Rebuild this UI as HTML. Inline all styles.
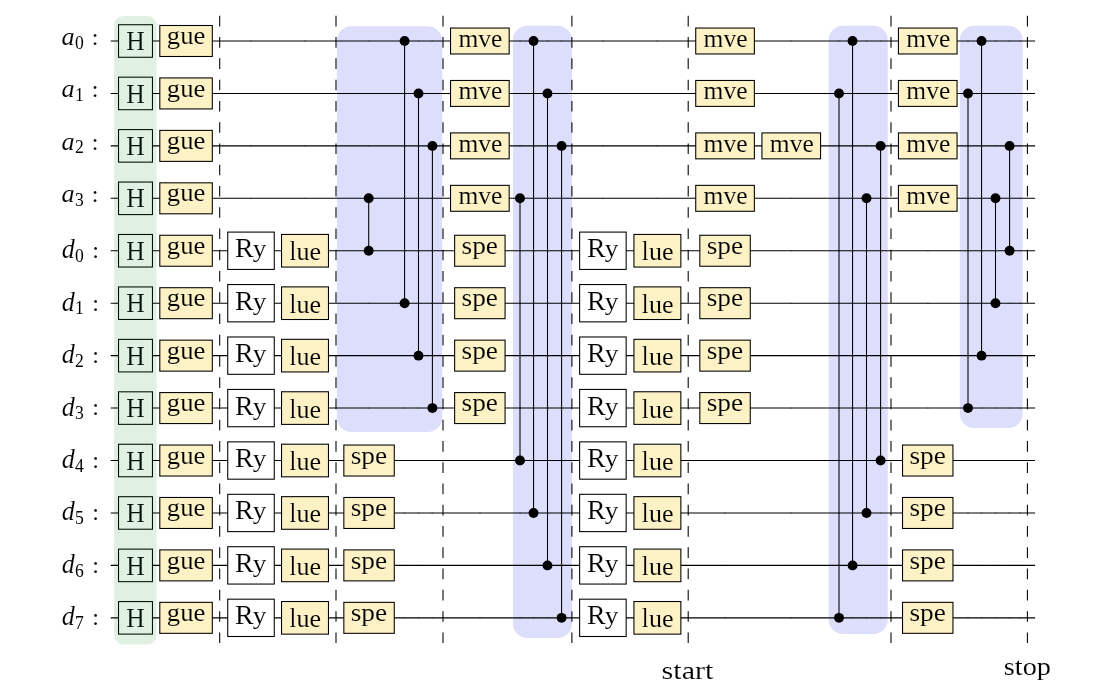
<!DOCTYPE html>
<html><head><meta charset="utf-8"><style>
html,body{margin:0;padding:0;background:#fff;width:1100px;height:696px;overflow:hidden}
svg{display:block;will-change:transform}
</style></head><body>
<svg width="1100" height="696" viewBox="0 0 1100 696">
<rect x="0" y="0" width="1100" height="696" fill="#ffffff"/>
<rect x="114.10" y="15.90" width="42.50" height="628.60" rx="9.5" ry="9.5" fill="#e0f0e3"/>
<rect x="336.90" y="26.20" width="105.30" height="405.70" rx="14.5" ry="14.5" fill="#dddefc"/>
<rect x="512.90" y="25.70" width="59.10" height="612.20" rx="14.5" ry="14.5" fill="#dddefc"/>
<rect x="828.60" y="25.70" width="59.20" height="608.40" rx="14.5" ry="14.5" fill="#dddefc"/>
<rect x="959.80" y="25.70" width="63.00" height="402.30" rx="14.5" ry="14.5" fill="#dddefc"/>
<line x1="110.7" y1="41.00" x2="1035.1" y2="41.00" stroke="#000" stroke-width="1.07"/>
<line x1="110.7" y1="93.44" x2="1035.1" y2="93.44" stroke="#000" stroke-width="1.07"/>
<line x1="110.7" y1="145.88" x2="1035.1" y2="145.88" stroke="#000" stroke-width="1.07"/>
<line x1="110.7" y1="198.32" x2="1035.1" y2="198.32" stroke="#000" stroke-width="1.07"/>
<line x1="110.7" y1="250.76" x2="1035.1" y2="250.76" stroke="#000" stroke-width="1.07"/>
<line x1="110.7" y1="303.20" x2="1035.1" y2="303.20" stroke="#000" stroke-width="1.07"/>
<line x1="110.7" y1="355.64" x2="1035.1" y2="355.64" stroke="#000" stroke-width="1.07"/>
<line x1="110.7" y1="408.08" x2="1035.1" y2="408.08" stroke="#000" stroke-width="1.07"/>
<line x1="110.7" y1="460.52" x2="1035.1" y2="460.52" stroke="#000" stroke-width="1.07"/>
<line x1="110.7" y1="512.96" x2="1035.1" y2="512.96" stroke="#000" stroke-width="1.07"/>
<line x1="110.7" y1="565.40" x2="1035.1" y2="565.40" stroke="#000" stroke-width="1.07"/>
<line x1="110.7" y1="617.84" x2="1035.1" y2="617.84" stroke="#000" stroke-width="1.07"/>
<rect x="249.90" y="40.47" width="2" height="1.07" fill="#000" fill-opacity="0.35"/>
<rect x="304.00" y="40.47" width="2" height="1.07" fill="#000" fill-opacity="0.35"/>
<rect x="367.70" y="40.47" width="2" height="1.07" fill="#000" fill-opacity="0.35"/>
<rect x="403.60" y="40.47" width="2" height="1.07" fill="#000" fill-opacity="0.35"/>
<rect x="417.50" y="40.47" width="2" height="1.07" fill="#000" fill-opacity="0.35"/>
<rect x="431.40" y="40.47" width="2" height="1.07" fill="#000" fill-opacity="0.35"/>
<rect x="478.85" y="40.47" width="2" height="1.07" fill="#000" fill-opacity="0.35"/>
<rect x="519.00" y="40.47" width="2" height="1.07" fill="#000" fill-opacity="0.35"/>
<rect x="532.55" y="40.47" width="2" height="1.07" fill="#000" fill-opacity="0.35"/>
<rect x="546.50" y="40.47" width="2" height="1.07" fill="#000" fill-opacity="0.35"/>
<rect x="560.60" y="40.47" width="2" height="1.07" fill="#000" fill-opacity="0.35"/>
<rect x="602.00" y="40.47" width="2" height="1.07" fill="#000" fill-opacity="0.35"/>
<rect x="656.30" y="40.47" width="2" height="1.07" fill="#000" fill-opacity="0.35"/>
<rect x="724.05" y="40.47" width="2" height="1.07" fill="#000" fill-opacity="0.35"/>
<rect x="790.25" y="40.47" width="2" height="1.07" fill="#000" fill-opacity="0.35"/>
<rect x="838.00" y="40.47" width="2" height="1.07" fill="#000" fill-opacity="0.35"/>
<rect x="851.55" y="40.47" width="2" height="1.07" fill="#000" fill-opacity="0.35"/>
<rect x="865.50" y="40.47" width="2" height="1.07" fill="#000" fill-opacity="0.35"/>
<rect x="879.60" y="40.47" width="2" height="1.07" fill="#000" fill-opacity="0.35"/>
<rect x="926.75" y="40.47" width="2" height="1.07" fill="#000" fill-opacity="0.35"/>
<rect x="967.00" y="40.47" width="2" height="1.07" fill="#000" fill-opacity="0.35"/>
<rect x="980.55" y="40.47" width="2" height="1.07" fill="#000" fill-opacity="0.35"/>
<rect x="994.50" y="40.47" width="2" height="1.07" fill="#000" fill-opacity="0.35"/>
<rect x="1008.60" y="40.47" width="2" height="1.07" fill="#000" fill-opacity="0.35"/>
<rect x="1019.00" y="40.47" width="2" height="1.07" fill="#000" fill-opacity="0.35"/>
<rect x="249.90" y="92.91" width="2" height="1.07" fill="#000" fill-opacity="0.35"/>
<rect x="304.00" y="92.91" width="2" height="1.07" fill="#000" fill-opacity="0.35"/>
<rect x="367.70" y="92.91" width="2" height="1.07" fill="#000" fill-opacity="0.35"/>
<rect x="403.60" y="92.91" width="2" height="1.07" fill="#000" fill-opacity="0.35"/>
<rect x="417.50" y="92.91" width="2" height="1.07" fill="#000" fill-opacity="0.35"/>
<rect x="431.40" y="92.91" width="2" height="1.07" fill="#000" fill-opacity="0.35"/>
<rect x="478.85" y="92.91" width="2" height="1.07" fill="#000" fill-opacity="0.35"/>
<rect x="519.00" y="92.91" width="2" height="1.07" fill="#000" fill-opacity="0.35"/>
<rect x="532.55" y="92.91" width="2" height="1.07" fill="#000" fill-opacity="0.35"/>
<rect x="546.50" y="92.91" width="2" height="1.07" fill="#000" fill-opacity="0.35"/>
<rect x="560.60" y="92.91" width="2" height="1.07" fill="#000" fill-opacity="0.35"/>
<rect x="602.00" y="92.91" width="2" height="1.07" fill="#000" fill-opacity="0.35"/>
<rect x="656.30" y="92.91" width="2" height="1.07" fill="#000" fill-opacity="0.35"/>
<rect x="724.05" y="92.91" width="2" height="1.07" fill="#000" fill-opacity="0.35"/>
<rect x="790.25" y="92.91" width="2" height="1.07" fill="#000" fill-opacity="0.35"/>
<rect x="838.00" y="92.91" width="2" height="1.07" fill="#000" fill-opacity="0.35"/>
<rect x="851.55" y="92.91" width="2" height="1.07" fill="#000" fill-opacity="0.35"/>
<rect x="865.50" y="92.91" width="2" height="1.07" fill="#000" fill-opacity="0.35"/>
<rect x="879.60" y="92.91" width="2" height="1.07" fill="#000" fill-opacity="0.35"/>
<rect x="926.75" y="92.91" width="2" height="1.07" fill="#000" fill-opacity="0.35"/>
<rect x="967.00" y="92.91" width="2" height="1.07" fill="#000" fill-opacity="0.35"/>
<rect x="980.55" y="92.91" width="2" height="1.07" fill="#000" fill-opacity="0.35"/>
<rect x="994.50" y="92.91" width="2" height="1.07" fill="#000" fill-opacity="0.35"/>
<rect x="1008.60" y="92.91" width="2" height="1.07" fill="#000" fill-opacity="0.35"/>
<rect x="1019.00" y="92.91" width="2" height="1.07" fill="#000" fill-opacity="0.35"/>
<rect x="249.90" y="145.34" width="2" height="1.07" fill="#000" fill-opacity="0.35"/>
<rect x="304.00" y="145.34" width="2" height="1.07" fill="#000" fill-opacity="0.35"/>
<rect x="367.70" y="145.34" width="2" height="1.07" fill="#000" fill-opacity="0.35"/>
<rect x="403.60" y="145.34" width="2" height="1.07" fill="#000" fill-opacity="0.35"/>
<rect x="417.50" y="145.34" width="2" height="1.07" fill="#000" fill-opacity="0.35"/>
<rect x="431.40" y="145.34" width="2" height="1.07" fill="#000" fill-opacity="0.35"/>
<rect x="478.85" y="145.34" width="2" height="1.07" fill="#000" fill-opacity="0.35"/>
<rect x="519.00" y="145.34" width="2" height="1.07" fill="#000" fill-opacity="0.35"/>
<rect x="532.55" y="145.34" width="2" height="1.07" fill="#000" fill-opacity="0.35"/>
<rect x="546.50" y="145.34" width="2" height="1.07" fill="#000" fill-opacity="0.35"/>
<rect x="560.60" y="145.34" width="2" height="1.07" fill="#000" fill-opacity="0.35"/>
<rect x="602.00" y="145.34" width="2" height="1.07" fill="#000" fill-opacity="0.35"/>
<rect x="656.30" y="145.34" width="2" height="1.07" fill="#000" fill-opacity="0.35"/>
<rect x="724.05" y="145.34" width="2" height="1.07" fill="#000" fill-opacity="0.35"/>
<rect x="790.25" y="145.34" width="2" height="1.07" fill="#000" fill-opacity="0.35"/>
<rect x="838.00" y="145.34" width="2" height="1.07" fill="#000" fill-opacity="0.35"/>
<rect x="851.55" y="145.34" width="2" height="1.07" fill="#000" fill-opacity="0.35"/>
<rect x="865.50" y="145.34" width="2" height="1.07" fill="#000" fill-opacity="0.35"/>
<rect x="879.60" y="145.34" width="2" height="1.07" fill="#000" fill-opacity="0.35"/>
<rect x="926.75" y="145.34" width="2" height="1.07" fill="#000" fill-opacity="0.35"/>
<rect x="967.00" y="145.34" width="2" height="1.07" fill="#000" fill-opacity="0.35"/>
<rect x="980.55" y="145.34" width="2" height="1.07" fill="#000" fill-opacity="0.35"/>
<rect x="994.50" y="145.34" width="2" height="1.07" fill="#000" fill-opacity="0.35"/>
<rect x="1008.60" y="145.34" width="2" height="1.07" fill="#000" fill-opacity="0.35"/>
<rect x="1019.00" y="145.34" width="2" height="1.07" fill="#000" fill-opacity="0.35"/>
<rect x="249.90" y="197.78" width="2" height="1.07" fill="#000" fill-opacity="0.35"/>
<rect x="304.00" y="197.78" width="2" height="1.07" fill="#000" fill-opacity="0.35"/>
<rect x="367.70" y="197.78" width="2" height="1.07" fill="#000" fill-opacity="0.35"/>
<rect x="403.60" y="197.78" width="2" height="1.07" fill="#000" fill-opacity="0.35"/>
<rect x="417.50" y="197.78" width="2" height="1.07" fill="#000" fill-opacity="0.35"/>
<rect x="431.40" y="197.78" width="2" height="1.07" fill="#000" fill-opacity="0.35"/>
<rect x="478.85" y="197.78" width="2" height="1.07" fill="#000" fill-opacity="0.35"/>
<rect x="519.00" y="197.78" width="2" height="1.07" fill="#000" fill-opacity="0.35"/>
<rect x="532.55" y="197.78" width="2" height="1.07" fill="#000" fill-opacity="0.35"/>
<rect x="546.50" y="197.78" width="2" height="1.07" fill="#000" fill-opacity="0.35"/>
<rect x="560.60" y="197.78" width="2" height="1.07" fill="#000" fill-opacity="0.35"/>
<rect x="602.00" y="197.78" width="2" height="1.07" fill="#000" fill-opacity="0.35"/>
<rect x="656.30" y="197.78" width="2" height="1.07" fill="#000" fill-opacity="0.35"/>
<rect x="724.05" y="197.78" width="2" height="1.07" fill="#000" fill-opacity="0.35"/>
<rect x="790.25" y="197.78" width="2" height="1.07" fill="#000" fill-opacity="0.35"/>
<rect x="838.00" y="197.78" width="2" height="1.07" fill="#000" fill-opacity="0.35"/>
<rect x="851.55" y="197.78" width="2" height="1.07" fill="#000" fill-opacity="0.35"/>
<rect x="865.50" y="197.78" width="2" height="1.07" fill="#000" fill-opacity="0.35"/>
<rect x="879.60" y="197.78" width="2" height="1.07" fill="#000" fill-opacity="0.35"/>
<rect x="926.75" y="197.78" width="2" height="1.07" fill="#000" fill-opacity="0.35"/>
<rect x="967.00" y="197.78" width="2" height="1.07" fill="#000" fill-opacity="0.35"/>
<rect x="980.55" y="197.78" width="2" height="1.07" fill="#000" fill-opacity="0.35"/>
<rect x="994.50" y="197.78" width="2" height="1.07" fill="#000" fill-opacity="0.35"/>
<rect x="1008.60" y="197.78" width="2" height="1.07" fill="#000" fill-opacity="0.35"/>
<rect x="1019.00" y="197.78" width="2" height="1.07" fill="#000" fill-opacity="0.35"/>
<rect x="249.90" y="250.22" width="2" height="1.07" fill="#000" fill-opacity="0.35"/>
<rect x="304.00" y="250.22" width="2" height="1.07" fill="#000" fill-opacity="0.35"/>
<rect x="367.70" y="250.22" width="2" height="1.07" fill="#000" fill-opacity="0.35"/>
<rect x="403.60" y="250.22" width="2" height="1.07" fill="#000" fill-opacity="0.35"/>
<rect x="417.50" y="250.22" width="2" height="1.07" fill="#000" fill-opacity="0.35"/>
<rect x="431.40" y="250.22" width="2" height="1.07" fill="#000" fill-opacity="0.35"/>
<rect x="478.85" y="250.22" width="2" height="1.07" fill="#000" fill-opacity="0.35"/>
<rect x="519.00" y="250.22" width="2" height="1.07" fill="#000" fill-opacity="0.35"/>
<rect x="532.55" y="250.22" width="2" height="1.07" fill="#000" fill-opacity="0.35"/>
<rect x="546.50" y="250.22" width="2" height="1.07" fill="#000" fill-opacity="0.35"/>
<rect x="560.60" y="250.22" width="2" height="1.07" fill="#000" fill-opacity="0.35"/>
<rect x="602.00" y="250.22" width="2" height="1.07" fill="#000" fill-opacity="0.35"/>
<rect x="656.30" y="250.22" width="2" height="1.07" fill="#000" fill-opacity="0.35"/>
<rect x="724.05" y="250.22" width="2" height="1.07" fill="#000" fill-opacity="0.35"/>
<rect x="790.25" y="250.22" width="2" height="1.07" fill="#000" fill-opacity="0.35"/>
<rect x="838.00" y="250.22" width="2" height="1.07" fill="#000" fill-opacity="0.35"/>
<rect x="851.55" y="250.22" width="2" height="1.07" fill="#000" fill-opacity="0.35"/>
<rect x="865.50" y="250.22" width="2" height="1.07" fill="#000" fill-opacity="0.35"/>
<rect x="879.60" y="250.22" width="2" height="1.07" fill="#000" fill-opacity="0.35"/>
<rect x="926.75" y="250.22" width="2" height="1.07" fill="#000" fill-opacity="0.35"/>
<rect x="967.00" y="250.22" width="2" height="1.07" fill="#000" fill-opacity="0.35"/>
<rect x="980.55" y="250.22" width="2" height="1.07" fill="#000" fill-opacity="0.35"/>
<rect x="994.50" y="250.22" width="2" height="1.07" fill="#000" fill-opacity="0.35"/>
<rect x="1008.60" y="250.22" width="2" height="1.07" fill="#000" fill-opacity="0.35"/>
<rect x="1019.00" y="250.22" width="2" height="1.07" fill="#000" fill-opacity="0.35"/>
<rect x="249.90" y="302.66" width="2" height="1.07" fill="#000" fill-opacity="0.35"/>
<rect x="304.00" y="302.66" width="2" height="1.07" fill="#000" fill-opacity="0.35"/>
<rect x="367.70" y="302.66" width="2" height="1.07" fill="#000" fill-opacity="0.35"/>
<rect x="403.60" y="302.66" width="2" height="1.07" fill="#000" fill-opacity="0.35"/>
<rect x="417.50" y="302.66" width="2" height="1.07" fill="#000" fill-opacity="0.35"/>
<rect x="431.40" y="302.66" width="2" height="1.07" fill="#000" fill-opacity="0.35"/>
<rect x="478.85" y="302.66" width="2" height="1.07" fill="#000" fill-opacity="0.35"/>
<rect x="519.00" y="302.66" width="2" height="1.07" fill="#000" fill-opacity="0.35"/>
<rect x="532.55" y="302.66" width="2" height="1.07" fill="#000" fill-opacity="0.35"/>
<rect x="546.50" y="302.66" width="2" height="1.07" fill="#000" fill-opacity="0.35"/>
<rect x="560.60" y="302.66" width="2" height="1.07" fill="#000" fill-opacity="0.35"/>
<rect x="602.00" y="302.66" width="2" height="1.07" fill="#000" fill-opacity="0.35"/>
<rect x="656.30" y="302.66" width="2" height="1.07" fill="#000" fill-opacity="0.35"/>
<rect x="724.05" y="302.66" width="2" height="1.07" fill="#000" fill-opacity="0.35"/>
<rect x="790.25" y="302.66" width="2" height="1.07" fill="#000" fill-opacity="0.35"/>
<rect x="838.00" y="302.66" width="2" height="1.07" fill="#000" fill-opacity="0.35"/>
<rect x="851.55" y="302.66" width="2" height="1.07" fill="#000" fill-opacity="0.35"/>
<rect x="865.50" y="302.66" width="2" height="1.07" fill="#000" fill-opacity="0.35"/>
<rect x="879.60" y="302.66" width="2" height="1.07" fill="#000" fill-opacity="0.35"/>
<rect x="926.75" y="302.66" width="2" height="1.07" fill="#000" fill-opacity="0.35"/>
<rect x="967.00" y="302.66" width="2" height="1.07" fill="#000" fill-opacity="0.35"/>
<rect x="980.55" y="302.66" width="2" height="1.07" fill="#000" fill-opacity="0.35"/>
<rect x="994.50" y="302.66" width="2" height="1.07" fill="#000" fill-opacity="0.35"/>
<rect x="1008.60" y="302.66" width="2" height="1.07" fill="#000" fill-opacity="0.35"/>
<rect x="1019.00" y="302.66" width="2" height="1.07" fill="#000" fill-opacity="0.35"/>
<rect x="249.90" y="355.10" width="2" height="1.07" fill="#000" fill-opacity="0.35"/>
<rect x="304.00" y="355.10" width="2" height="1.07" fill="#000" fill-opacity="0.35"/>
<rect x="367.70" y="355.10" width="2" height="1.07" fill="#000" fill-opacity="0.35"/>
<rect x="403.60" y="355.10" width="2" height="1.07" fill="#000" fill-opacity="0.35"/>
<rect x="417.50" y="355.10" width="2" height="1.07" fill="#000" fill-opacity="0.35"/>
<rect x="431.40" y="355.10" width="2" height="1.07" fill="#000" fill-opacity="0.35"/>
<rect x="478.85" y="355.10" width="2" height="1.07" fill="#000" fill-opacity="0.35"/>
<rect x="519.00" y="355.10" width="2" height="1.07" fill="#000" fill-opacity="0.35"/>
<rect x="532.55" y="355.10" width="2" height="1.07" fill="#000" fill-opacity="0.35"/>
<rect x="546.50" y="355.10" width="2" height="1.07" fill="#000" fill-opacity="0.35"/>
<rect x="560.60" y="355.10" width="2" height="1.07" fill="#000" fill-opacity="0.35"/>
<rect x="602.00" y="355.10" width="2" height="1.07" fill="#000" fill-opacity="0.35"/>
<rect x="656.30" y="355.10" width="2" height="1.07" fill="#000" fill-opacity="0.35"/>
<rect x="724.05" y="355.10" width="2" height="1.07" fill="#000" fill-opacity="0.35"/>
<rect x="790.25" y="355.10" width="2" height="1.07" fill="#000" fill-opacity="0.35"/>
<rect x="838.00" y="355.10" width="2" height="1.07" fill="#000" fill-opacity="0.35"/>
<rect x="851.55" y="355.10" width="2" height="1.07" fill="#000" fill-opacity="0.35"/>
<rect x="865.50" y="355.10" width="2" height="1.07" fill="#000" fill-opacity="0.35"/>
<rect x="879.60" y="355.10" width="2" height="1.07" fill="#000" fill-opacity="0.35"/>
<rect x="926.75" y="355.10" width="2" height="1.07" fill="#000" fill-opacity="0.35"/>
<rect x="967.00" y="355.10" width="2" height="1.07" fill="#000" fill-opacity="0.35"/>
<rect x="980.55" y="355.10" width="2" height="1.07" fill="#000" fill-opacity="0.35"/>
<rect x="994.50" y="355.10" width="2" height="1.07" fill="#000" fill-opacity="0.35"/>
<rect x="1008.60" y="355.10" width="2" height="1.07" fill="#000" fill-opacity="0.35"/>
<rect x="1019.00" y="355.10" width="2" height="1.07" fill="#000" fill-opacity="0.35"/>
<rect x="249.90" y="407.54" width="2" height="1.07" fill="#000" fill-opacity="0.35"/>
<rect x="304.00" y="407.54" width="2" height="1.07" fill="#000" fill-opacity="0.35"/>
<rect x="367.70" y="407.54" width="2" height="1.07" fill="#000" fill-opacity="0.35"/>
<rect x="403.60" y="407.54" width="2" height="1.07" fill="#000" fill-opacity="0.35"/>
<rect x="417.50" y="407.54" width="2" height="1.07" fill="#000" fill-opacity="0.35"/>
<rect x="431.40" y="407.54" width="2" height="1.07" fill="#000" fill-opacity="0.35"/>
<rect x="478.85" y="407.54" width="2" height="1.07" fill="#000" fill-opacity="0.35"/>
<rect x="519.00" y="407.54" width="2" height="1.07" fill="#000" fill-opacity="0.35"/>
<rect x="532.55" y="407.54" width="2" height="1.07" fill="#000" fill-opacity="0.35"/>
<rect x="546.50" y="407.54" width="2" height="1.07" fill="#000" fill-opacity="0.35"/>
<rect x="560.60" y="407.54" width="2" height="1.07" fill="#000" fill-opacity="0.35"/>
<rect x="602.00" y="407.54" width="2" height="1.07" fill="#000" fill-opacity="0.35"/>
<rect x="656.30" y="407.54" width="2" height="1.07" fill="#000" fill-opacity="0.35"/>
<rect x="724.05" y="407.54" width="2" height="1.07" fill="#000" fill-opacity="0.35"/>
<rect x="790.25" y="407.54" width="2" height="1.07" fill="#000" fill-opacity="0.35"/>
<rect x="838.00" y="407.54" width="2" height="1.07" fill="#000" fill-opacity="0.35"/>
<rect x="851.55" y="407.54" width="2" height="1.07" fill="#000" fill-opacity="0.35"/>
<rect x="865.50" y="407.54" width="2" height="1.07" fill="#000" fill-opacity="0.35"/>
<rect x="879.60" y="407.54" width="2" height="1.07" fill="#000" fill-opacity="0.35"/>
<rect x="926.75" y="407.54" width="2" height="1.07" fill="#000" fill-opacity="0.35"/>
<rect x="967.00" y="407.54" width="2" height="1.07" fill="#000" fill-opacity="0.35"/>
<rect x="980.55" y="407.54" width="2" height="1.07" fill="#000" fill-opacity="0.35"/>
<rect x="994.50" y="407.54" width="2" height="1.07" fill="#000" fill-opacity="0.35"/>
<rect x="1008.60" y="407.54" width="2" height="1.07" fill="#000" fill-opacity="0.35"/>
<rect x="1019.00" y="407.54" width="2" height="1.07" fill="#000" fill-opacity="0.35"/>
<rect x="249.90" y="459.98" width="2" height="1.07" fill="#000" fill-opacity="0.35"/>
<rect x="304.00" y="459.98" width="2" height="1.07" fill="#000" fill-opacity="0.35"/>
<rect x="367.70" y="459.98" width="2" height="1.07" fill="#000" fill-opacity="0.35"/>
<rect x="403.60" y="459.98" width="2" height="1.07" fill="#000" fill-opacity="0.35"/>
<rect x="417.50" y="459.98" width="2" height="1.07" fill="#000" fill-opacity="0.35"/>
<rect x="431.40" y="459.98" width="2" height="1.07" fill="#000" fill-opacity="0.35"/>
<rect x="478.85" y="459.98" width="2" height="1.07" fill="#000" fill-opacity="0.35"/>
<rect x="519.00" y="459.98" width="2" height="1.07" fill="#000" fill-opacity="0.35"/>
<rect x="532.55" y="459.98" width="2" height="1.07" fill="#000" fill-opacity="0.35"/>
<rect x="546.50" y="459.98" width="2" height="1.07" fill="#000" fill-opacity="0.35"/>
<rect x="560.60" y="459.98" width="2" height="1.07" fill="#000" fill-opacity="0.35"/>
<rect x="602.00" y="459.98" width="2" height="1.07" fill="#000" fill-opacity="0.35"/>
<rect x="656.30" y="459.98" width="2" height="1.07" fill="#000" fill-opacity="0.35"/>
<rect x="724.05" y="459.98" width="2" height="1.07" fill="#000" fill-opacity="0.35"/>
<rect x="790.25" y="459.98" width="2" height="1.07" fill="#000" fill-opacity="0.35"/>
<rect x="838.00" y="459.98" width="2" height="1.07" fill="#000" fill-opacity="0.35"/>
<rect x="851.55" y="459.98" width="2" height="1.07" fill="#000" fill-opacity="0.35"/>
<rect x="865.50" y="459.98" width="2" height="1.07" fill="#000" fill-opacity="0.35"/>
<rect x="879.60" y="459.98" width="2" height="1.07" fill="#000" fill-opacity="0.35"/>
<rect x="926.75" y="459.98" width="2" height="1.07" fill="#000" fill-opacity="0.35"/>
<rect x="967.00" y="459.98" width="2" height="1.07" fill="#000" fill-opacity="0.35"/>
<rect x="980.55" y="459.98" width="2" height="1.07" fill="#000" fill-opacity="0.35"/>
<rect x="994.50" y="459.98" width="2" height="1.07" fill="#000" fill-opacity="0.35"/>
<rect x="1008.60" y="459.98" width="2" height="1.07" fill="#000" fill-opacity="0.35"/>
<rect x="1019.00" y="459.98" width="2" height="1.07" fill="#000" fill-opacity="0.35"/>
<rect x="249.90" y="512.43" width="2" height="1.07" fill="#000" fill-opacity="0.35"/>
<rect x="304.00" y="512.43" width="2" height="1.07" fill="#000" fill-opacity="0.35"/>
<rect x="367.70" y="512.43" width="2" height="1.07" fill="#000" fill-opacity="0.35"/>
<rect x="403.60" y="512.43" width="2" height="1.07" fill="#000" fill-opacity="0.35"/>
<rect x="417.50" y="512.43" width="2" height="1.07" fill="#000" fill-opacity="0.35"/>
<rect x="431.40" y="512.43" width="2" height="1.07" fill="#000" fill-opacity="0.35"/>
<rect x="478.85" y="512.43" width="2" height="1.07" fill="#000" fill-opacity="0.35"/>
<rect x="519.00" y="512.43" width="2" height="1.07" fill="#000" fill-opacity="0.35"/>
<rect x="532.55" y="512.43" width="2" height="1.07" fill="#000" fill-opacity="0.35"/>
<rect x="546.50" y="512.43" width="2" height="1.07" fill="#000" fill-opacity="0.35"/>
<rect x="560.60" y="512.43" width="2" height="1.07" fill="#000" fill-opacity="0.35"/>
<rect x="602.00" y="512.43" width="2" height="1.07" fill="#000" fill-opacity="0.35"/>
<rect x="656.30" y="512.43" width="2" height="1.07" fill="#000" fill-opacity="0.35"/>
<rect x="724.05" y="512.43" width="2" height="1.07" fill="#000" fill-opacity="0.35"/>
<rect x="790.25" y="512.43" width="2" height="1.07" fill="#000" fill-opacity="0.35"/>
<rect x="838.00" y="512.43" width="2" height="1.07" fill="#000" fill-opacity="0.35"/>
<rect x="851.55" y="512.43" width="2" height="1.07" fill="#000" fill-opacity="0.35"/>
<rect x="865.50" y="512.43" width="2" height="1.07" fill="#000" fill-opacity="0.35"/>
<rect x="879.60" y="512.43" width="2" height="1.07" fill="#000" fill-opacity="0.35"/>
<rect x="926.75" y="512.43" width="2" height="1.07" fill="#000" fill-opacity="0.35"/>
<rect x="967.00" y="512.43" width="2" height="1.07" fill="#000" fill-opacity="0.35"/>
<rect x="980.55" y="512.43" width="2" height="1.07" fill="#000" fill-opacity="0.35"/>
<rect x="994.50" y="512.43" width="2" height="1.07" fill="#000" fill-opacity="0.35"/>
<rect x="1008.60" y="512.43" width="2" height="1.07" fill="#000" fill-opacity="0.35"/>
<rect x="1019.00" y="512.43" width="2" height="1.07" fill="#000" fill-opacity="0.35"/>
<rect x="249.90" y="564.87" width="2" height="1.07" fill="#000" fill-opacity="0.35"/>
<rect x="304.00" y="564.87" width="2" height="1.07" fill="#000" fill-opacity="0.35"/>
<rect x="367.70" y="564.87" width="2" height="1.07" fill="#000" fill-opacity="0.35"/>
<rect x="403.60" y="564.87" width="2" height="1.07" fill="#000" fill-opacity="0.35"/>
<rect x="417.50" y="564.87" width="2" height="1.07" fill="#000" fill-opacity="0.35"/>
<rect x="431.40" y="564.87" width="2" height="1.07" fill="#000" fill-opacity="0.35"/>
<rect x="478.85" y="564.87" width="2" height="1.07" fill="#000" fill-opacity="0.35"/>
<rect x="519.00" y="564.87" width="2" height="1.07" fill="#000" fill-opacity="0.35"/>
<rect x="532.55" y="564.87" width="2" height="1.07" fill="#000" fill-opacity="0.35"/>
<rect x="546.50" y="564.87" width="2" height="1.07" fill="#000" fill-opacity="0.35"/>
<rect x="560.60" y="564.87" width="2" height="1.07" fill="#000" fill-opacity="0.35"/>
<rect x="602.00" y="564.87" width="2" height="1.07" fill="#000" fill-opacity="0.35"/>
<rect x="656.30" y="564.87" width="2" height="1.07" fill="#000" fill-opacity="0.35"/>
<rect x="724.05" y="564.87" width="2" height="1.07" fill="#000" fill-opacity="0.35"/>
<rect x="790.25" y="564.87" width="2" height="1.07" fill="#000" fill-opacity="0.35"/>
<rect x="838.00" y="564.87" width="2" height="1.07" fill="#000" fill-opacity="0.35"/>
<rect x="851.55" y="564.87" width="2" height="1.07" fill="#000" fill-opacity="0.35"/>
<rect x="865.50" y="564.87" width="2" height="1.07" fill="#000" fill-opacity="0.35"/>
<rect x="879.60" y="564.87" width="2" height="1.07" fill="#000" fill-opacity="0.35"/>
<rect x="926.75" y="564.87" width="2" height="1.07" fill="#000" fill-opacity="0.35"/>
<rect x="967.00" y="564.87" width="2" height="1.07" fill="#000" fill-opacity="0.35"/>
<rect x="980.55" y="564.87" width="2" height="1.07" fill="#000" fill-opacity="0.35"/>
<rect x="994.50" y="564.87" width="2" height="1.07" fill="#000" fill-opacity="0.35"/>
<rect x="1008.60" y="564.87" width="2" height="1.07" fill="#000" fill-opacity="0.35"/>
<rect x="1019.00" y="564.87" width="2" height="1.07" fill="#000" fill-opacity="0.35"/>
<rect x="249.90" y="617.30" width="2" height="1.07" fill="#000" fill-opacity="0.35"/>
<rect x="304.00" y="617.30" width="2" height="1.07" fill="#000" fill-opacity="0.35"/>
<rect x="367.70" y="617.30" width="2" height="1.07" fill="#000" fill-opacity="0.35"/>
<rect x="403.60" y="617.30" width="2" height="1.07" fill="#000" fill-opacity="0.35"/>
<rect x="417.50" y="617.30" width="2" height="1.07" fill="#000" fill-opacity="0.35"/>
<rect x="431.40" y="617.30" width="2" height="1.07" fill="#000" fill-opacity="0.35"/>
<rect x="478.85" y="617.30" width="2" height="1.07" fill="#000" fill-opacity="0.35"/>
<rect x="519.00" y="617.30" width="2" height="1.07" fill="#000" fill-opacity="0.35"/>
<rect x="532.55" y="617.30" width="2" height="1.07" fill="#000" fill-opacity="0.35"/>
<rect x="546.50" y="617.30" width="2" height="1.07" fill="#000" fill-opacity="0.35"/>
<rect x="560.60" y="617.30" width="2" height="1.07" fill="#000" fill-opacity="0.35"/>
<rect x="602.00" y="617.30" width="2" height="1.07" fill="#000" fill-opacity="0.35"/>
<rect x="656.30" y="617.30" width="2" height="1.07" fill="#000" fill-opacity="0.35"/>
<rect x="724.05" y="617.30" width="2" height="1.07" fill="#000" fill-opacity="0.35"/>
<rect x="790.25" y="617.30" width="2" height="1.07" fill="#000" fill-opacity="0.35"/>
<rect x="838.00" y="617.30" width="2" height="1.07" fill="#000" fill-opacity="0.35"/>
<rect x="851.55" y="617.30" width="2" height="1.07" fill="#000" fill-opacity="0.35"/>
<rect x="865.50" y="617.30" width="2" height="1.07" fill="#000" fill-opacity="0.35"/>
<rect x="879.60" y="617.30" width="2" height="1.07" fill="#000" fill-opacity="0.35"/>
<rect x="926.75" y="617.30" width="2" height="1.07" fill="#000" fill-opacity="0.35"/>
<rect x="967.00" y="617.30" width="2" height="1.07" fill="#000" fill-opacity="0.35"/>
<rect x="980.55" y="617.30" width="2" height="1.07" fill="#000" fill-opacity="0.35"/>
<rect x="994.50" y="617.30" width="2" height="1.07" fill="#000" fill-opacity="0.35"/>
<rect x="1008.60" y="617.30" width="2" height="1.07" fill="#000" fill-opacity="0.35"/>
<rect x="1019.00" y="617.30" width="2" height="1.07" fill="#000" fill-opacity="0.35"/>
<line x1="219.7" y1="15.85" x2="219.7" y2="643.0" stroke="#000" stroke-width="1.07" stroke-dasharray="10.63 10.63"/>
<line x1="336.0" y1="15.85" x2="336.0" y2="643.0" stroke="#000" stroke-width="1.07" stroke-dasharray="10.63 10.63"/>
<line x1="443.0" y1="15.85" x2="443.0" y2="643.0" stroke="#000" stroke-width="1.07" stroke-dasharray="10.63 10.63"/>
<line x1="571.9" y1="15.85" x2="571.9" y2="643.0" stroke="#000" stroke-width="1.07" stroke-dasharray="10.63 10.63"/>
<line x1="688.2" y1="15.85" x2="688.2" y2="643.0" stroke="#000" stroke-width="1.07" stroke-dasharray="10.63 10.63"/>
<line x1="891.0" y1="15.85" x2="891.0" y2="643.0" stroke="#000" stroke-width="1.07" stroke-dasharray="10.63 10.63"/>
<line x1="1027.4" y1="15.85" x2="1027.4" y2="643.0" stroke="#000" stroke-width="1.07" stroke-dasharray="10.63 10.63"/>
<line x1="368.7" y1="198.32" x2="368.7" y2="250.76" stroke="#000" stroke-width="1.07"/>
<circle cx="368.7" cy="198.32" r="4.95" fill="#000"/>
<circle cx="368.7" cy="250.76" r="4.95" fill="#000"/>
<line x1="404.6" y1="41.00" x2="404.6" y2="303.20" stroke="#000" stroke-width="1.07"/>
<circle cx="404.6" cy="41.00" r="4.95" fill="#000"/>
<circle cx="404.6" cy="303.20" r="4.95" fill="#000"/>
<line x1="418.5" y1="93.44" x2="418.5" y2="355.64" stroke="#000" stroke-width="1.07"/>
<circle cx="418.5" cy="93.44" r="4.95" fill="#000"/>
<circle cx="418.5" cy="355.64" r="4.95" fill="#000"/>
<line x1="432.4" y1="145.88" x2="432.4" y2="408.08" stroke="#000" stroke-width="1.07"/>
<circle cx="432.4" cy="145.88" r="4.95" fill="#000"/>
<circle cx="432.4" cy="408.08" r="4.95" fill="#000"/>
<line x1="520.0" y1="198.32" x2="520.0" y2="460.52" stroke="#000" stroke-width="1.07"/>
<circle cx="520.0" cy="198.32" r="4.95" fill="#000"/>
<circle cx="520.0" cy="460.52" r="4.95" fill="#000"/>
<line x1="533.55" y1="41.00" x2="533.55" y2="512.96" stroke="#000" stroke-width="1.07"/>
<circle cx="533.55" cy="41.00" r="4.95" fill="#000"/>
<circle cx="533.55" cy="512.96" r="4.95" fill="#000"/>
<line x1="547.5" y1="93.44" x2="547.5" y2="565.40" stroke="#000" stroke-width="1.07"/>
<circle cx="547.5" cy="93.44" r="4.95" fill="#000"/>
<circle cx="547.5" cy="565.40" r="4.95" fill="#000"/>
<line x1="561.6" y1="145.88" x2="561.6" y2="617.84" stroke="#000" stroke-width="1.07"/>
<circle cx="561.6" cy="145.88" r="4.95" fill="#000"/>
<circle cx="561.6" cy="617.84" r="4.95" fill="#000"/>
<line x1="839.0" y1="93.44" x2="839.0" y2="617.84" stroke="#000" stroke-width="1.07"/>
<circle cx="839.0" cy="93.44" r="4.95" fill="#000"/>
<circle cx="839.0" cy="617.84" r="4.95" fill="#000"/>
<line x1="852.55" y1="41.00" x2="852.55" y2="565.40" stroke="#000" stroke-width="1.07"/>
<circle cx="852.55" cy="41.00" r="4.95" fill="#000"/>
<circle cx="852.55" cy="565.40" r="4.95" fill="#000"/>
<line x1="866.5" y1="198.32" x2="866.5" y2="512.96" stroke="#000" stroke-width="1.07"/>
<circle cx="866.5" cy="198.32" r="4.95" fill="#000"/>
<circle cx="866.5" cy="512.96" r="4.95" fill="#000"/>
<line x1="880.6" y1="145.88" x2="880.6" y2="460.52" stroke="#000" stroke-width="1.07"/>
<circle cx="880.6" cy="145.88" r="4.95" fill="#000"/>
<circle cx="880.6" cy="460.52" r="4.95" fill="#000"/>
<line x1="968.0" y1="93.44" x2="968.0" y2="408.08" stroke="#000" stroke-width="1.07"/>
<circle cx="968.0" cy="93.44" r="4.95" fill="#000"/>
<circle cx="968.0" cy="408.08" r="4.95" fill="#000"/>
<line x1="981.55" y1="41.00" x2="981.55" y2="355.64" stroke="#000" stroke-width="1.07"/>
<circle cx="981.55" cy="41.00" r="4.95" fill="#000"/>
<circle cx="981.55" cy="355.64" r="4.95" fill="#000"/>
<line x1="995.5" y1="198.32" x2="995.5" y2="303.20" stroke="#000" stroke-width="1.07"/>
<circle cx="995.5" cy="198.32" r="4.95" fill="#000"/>
<circle cx="995.5" cy="303.20" r="4.95" fill="#000"/>
<line x1="1009.6" y1="145.88" x2="1009.6" y2="250.76" stroke="#000" stroke-width="1.07"/>
<circle cx="1009.6" cy="145.88" r="4.95" fill="#000"/>
<circle cx="1009.6" cy="250.76" r="4.95" fill="#000"/>
<text x="61.40" y="45.00" textLength="13.10" lengthAdjust="spacingAndGlyphs" style="font-family:'Liberation Serif',serif;font-size:26.0px;font-style:italic;fill:#000;stroke:#fff;stroke-width:0.12px;">a</text>
<text x="74.90" y="48.60" textLength="8.80" lengthAdjust="spacingAndGlyphs" style="font-family:'Liberation Serif',serif;font-size:18.0px;fill:#000;">0</text>
<text x="95.20" y="45.00" text-anchor="middle" style="font-family:'Liberation Serif',serif;font-size:24px;">:</text>
<rect x="118.53" y="24.73" width="33.93" height="32.53" fill="#e0f0e3" stroke="#001000" stroke-width="1.07"/>
<text x="126.20" y="50.10" textLength="18.50" lengthAdjust="spacingAndGlyphs" style="font-family:'Liberation Serif',serif;font-size:27.6px;fill:#001000;stroke:#e0f0e3;stroke-width:0.12px;">H</text>
<rect x="159.81" y="25.50" width="52.49" height="30.99" fill="#fdf2c5" stroke="#000" stroke-width="1.07"/>
<text x="166.80" y="44.10" textLength="38.50" lengthAdjust="spacingAndGlyphs" style="font-family:'Liberation Serif',serif;font-size:26.0px;fill:#000;stroke:#fdf2c5;stroke-width:0.12px;">gue</text>
<text x="61.40" y="97.44" textLength="13.10" lengthAdjust="spacingAndGlyphs" style="font-family:'Liberation Serif',serif;font-size:26.0px;font-style:italic;fill:#000;stroke:#fff;stroke-width:0.12px;">a</text>
<text x="74.90" y="101.04" textLength="8.80" lengthAdjust="spacingAndGlyphs" style="font-family:'Liberation Serif',serif;font-size:18.0px;fill:#000;">1</text>
<text x="95.20" y="97.44" text-anchor="middle" style="font-family:'Liberation Serif',serif;font-size:24px;">:</text>
<rect x="118.53" y="77.17" width="33.93" height="32.53" fill="#e0f0e3" stroke="#001000" stroke-width="1.07"/>
<text x="126.20" y="102.54" textLength="18.50" lengthAdjust="spacingAndGlyphs" style="font-family:'Liberation Serif',serif;font-size:27.6px;fill:#001000;stroke:#e0f0e3;stroke-width:0.12px;">H</text>
<rect x="159.81" y="77.94" width="52.49" height="30.99" fill="#fdf2c5" stroke="#000" stroke-width="1.07"/>
<text x="166.80" y="96.54" textLength="38.50" lengthAdjust="spacingAndGlyphs" style="font-family:'Liberation Serif',serif;font-size:26.0px;fill:#000;stroke:#fdf2c5;stroke-width:0.12px;">gue</text>
<text x="61.40" y="149.88" textLength="13.10" lengthAdjust="spacingAndGlyphs" style="font-family:'Liberation Serif',serif;font-size:26.0px;font-style:italic;fill:#000;stroke:#fff;stroke-width:0.12px;">a</text>
<text x="74.90" y="153.48" textLength="8.80" lengthAdjust="spacingAndGlyphs" style="font-family:'Liberation Serif',serif;font-size:18.0px;fill:#000;">2</text>
<text x="95.20" y="149.88" text-anchor="middle" style="font-family:'Liberation Serif',serif;font-size:24px;">:</text>
<rect x="118.53" y="129.61" width="33.93" height="32.53" fill="#e0f0e3" stroke="#001000" stroke-width="1.07"/>
<text x="126.20" y="154.98" textLength="18.50" lengthAdjust="spacingAndGlyphs" style="font-family:'Liberation Serif',serif;font-size:27.6px;fill:#001000;stroke:#e0f0e3;stroke-width:0.12px;">H</text>
<rect x="159.81" y="130.38" width="52.49" height="30.99" fill="#fdf2c5" stroke="#000" stroke-width="1.07"/>
<text x="166.80" y="148.98" textLength="38.50" lengthAdjust="spacingAndGlyphs" style="font-family:'Liberation Serif',serif;font-size:26.0px;fill:#000;stroke:#fdf2c5;stroke-width:0.12px;">gue</text>
<text x="61.40" y="202.32" textLength="13.10" lengthAdjust="spacingAndGlyphs" style="font-family:'Liberation Serif',serif;font-size:26.0px;font-style:italic;fill:#000;stroke:#fff;stroke-width:0.12px;">a</text>
<text x="74.90" y="205.92" textLength="8.80" lengthAdjust="spacingAndGlyphs" style="font-family:'Liberation Serif',serif;font-size:18.0px;fill:#000;">3</text>
<text x="95.20" y="202.32" text-anchor="middle" style="font-family:'Liberation Serif',serif;font-size:24px;">:</text>
<rect x="118.53" y="182.05" width="33.93" height="32.53" fill="#e0f0e3" stroke="#001000" stroke-width="1.07"/>
<text x="126.20" y="207.42" textLength="18.50" lengthAdjust="spacingAndGlyphs" style="font-family:'Liberation Serif',serif;font-size:27.6px;fill:#001000;stroke:#e0f0e3;stroke-width:0.12px;">H</text>
<rect x="159.81" y="182.82" width="52.49" height="30.99" fill="#fdf2c5" stroke="#000" stroke-width="1.07"/>
<text x="166.80" y="201.42" textLength="38.50" lengthAdjust="spacingAndGlyphs" style="font-family:'Liberation Serif',serif;font-size:26.0px;fill:#000;stroke:#fdf2c5;stroke-width:0.12px;">gue</text>
<text x="61.80" y="258.26" textLength="13.00" lengthAdjust="spacingAndGlyphs" style="font-family:'Liberation Serif',serif;font-size:26.3px;font-style:italic;fill:#000;stroke:#fff;stroke-width:0.12px;">d</text>
<text x="74.90" y="261.86" textLength="8.80" lengthAdjust="spacingAndGlyphs" style="font-family:'Liberation Serif',serif;font-size:18.0px;fill:#000;">0</text>
<text x="95.50" y="258.06" text-anchor="middle" style="font-family:'Liberation Serif',serif;font-size:24px;">:</text>
<rect x="118.53" y="234.49" width="33.93" height="32.53" fill="#e0f0e3" stroke="#001000" stroke-width="1.07"/>
<text x="126.20" y="259.86" textLength="18.50" lengthAdjust="spacingAndGlyphs" style="font-family:'Liberation Serif',serif;font-size:27.6px;fill:#001000;stroke:#e0f0e3;stroke-width:0.12px;">H</text>
<rect x="159.81" y="235.26" width="52.49" height="30.99" fill="#fdf2c5" stroke="#000" stroke-width="1.07"/>
<text x="166.80" y="253.86" textLength="38.50" lengthAdjust="spacingAndGlyphs" style="font-family:'Liberation Serif',serif;font-size:26.0px;fill:#000;stroke:#fdf2c5;stroke-width:0.12px;">gue</text>
<text x="61.80" y="310.70" textLength="13.00" lengthAdjust="spacingAndGlyphs" style="font-family:'Liberation Serif',serif;font-size:26.3px;font-style:italic;fill:#000;stroke:#fff;stroke-width:0.12px;">d</text>
<text x="74.90" y="314.30" textLength="8.80" lengthAdjust="spacingAndGlyphs" style="font-family:'Liberation Serif',serif;font-size:18.0px;fill:#000;">1</text>
<text x="95.50" y="310.50" text-anchor="middle" style="font-family:'Liberation Serif',serif;font-size:24px;">:</text>
<rect x="118.53" y="286.94" width="33.93" height="32.53" fill="#e0f0e3" stroke="#001000" stroke-width="1.07"/>
<text x="126.20" y="312.30" textLength="18.50" lengthAdjust="spacingAndGlyphs" style="font-family:'Liberation Serif',serif;font-size:27.6px;fill:#001000;stroke:#e0f0e3;stroke-width:0.12px;">H</text>
<rect x="159.81" y="287.70" width="52.49" height="30.99" fill="#fdf2c5" stroke="#000" stroke-width="1.07"/>
<text x="166.80" y="306.30" textLength="38.50" lengthAdjust="spacingAndGlyphs" style="font-family:'Liberation Serif',serif;font-size:26.0px;fill:#000;stroke:#fdf2c5;stroke-width:0.12px;">gue</text>
<text x="61.80" y="363.14" textLength="13.00" lengthAdjust="spacingAndGlyphs" style="font-family:'Liberation Serif',serif;font-size:26.3px;font-style:italic;fill:#000;stroke:#fff;stroke-width:0.12px;">d</text>
<text x="74.90" y="366.74" textLength="8.80" lengthAdjust="spacingAndGlyphs" style="font-family:'Liberation Serif',serif;font-size:18.0px;fill:#000;">2</text>
<text x="95.50" y="362.94" text-anchor="middle" style="font-family:'Liberation Serif',serif;font-size:24px;">:</text>
<rect x="118.53" y="339.38" width="33.93" height="32.53" fill="#e0f0e3" stroke="#001000" stroke-width="1.07"/>
<text x="126.20" y="364.74" textLength="18.50" lengthAdjust="spacingAndGlyphs" style="font-family:'Liberation Serif',serif;font-size:27.6px;fill:#001000;stroke:#e0f0e3;stroke-width:0.12px;">H</text>
<rect x="159.81" y="340.15" width="52.49" height="30.99" fill="#fdf2c5" stroke="#000" stroke-width="1.07"/>
<text x="166.80" y="358.74" textLength="38.50" lengthAdjust="spacingAndGlyphs" style="font-family:'Liberation Serif',serif;font-size:26.0px;fill:#000;stroke:#fdf2c5;stroke-width:0.12px;">gue</text>
<text x="61.80" y="415.58" textLength="13.00" lengthAdjust="spacingAndGlyphs" style="font-family:'Liberation Serif',serif;font-size:26.3px;font-style:italic;fill:#000;stroke:#fff;stroke-width:0.12px;">d</text>
<text x="74.90" y="419.18" textLength="8.80" lengthAdjust="spacingAndGlyphs" style="font-family:'Liberation Serif',serif;font-size:18.0px;fill:#000;">3</text>
<text x="95.50" y="415.38" text-anchor="middle" style="font-family:'Liberation Serif',serif;font-size:24px;">:</text>
<rect x="118.53" y="391.81" width="33.93" height="32.53" fill="#e0f0e3" stroke="#001000" stroke-width="1.07"/>
<text x="126.20" y="417.18" textLength="18.50" lengthAdjust="spacingAndGlyphs" style="font-family:'Liberation Serif',serif;font-size:27.6px;fill:#001000;stroke:#e0f0e3;stroke-width:0.12px;">H</text>
<rect x="159.81" y="392.58" width="52.49" height="30.99" fill="#fdf2c5" stroke="#000" stroke-width="1.07"/>
<text x="166.80" y="411.18" textLength="38.50" lengthAdjust="spacingAndGlyphs" style="font-family:'Liberation Serif',serif;font-size:26.0px;fill:#000;stroke:#fdf2c5;stroke-width:0.12px;">gue</text>
<text x="61.80" y="468.02" textLength="13.00" lengthAdjust="spacingAndGlyphs" style="font-family:'Liberation Serif',serif;font-size:26.3px;font-style:italic;fill:#000;stroke:#fff;stroke-width:0.12px;">d</text>
<text x="74.90" y="471.62" textLength="8.80" lengthAdjust="spacingAndGlyphs" style="font-family:'Liberation Serif',serif;font-size:18.0px;fill:#000;">4</text>
<text x="95.50" y="467.82" text-anchor="middle" style="font-family:'Liberation Serif',serif;font-size:24px;">:</text>
<rect x="118.53" y="444.25" width="33.93" height="32.53" fill="#e0f0e3" stroke="#001000" stroke-width="1.07"/>
<text x="126.20" y="469.62" textLength="18.50" lengthAdjust="spacingAndGlyphs" style="font-family:'Liberation Serif',serif;font-size:27.6px;fill:#001000;stroke:#e0f0e3;stroke-width:0.12px;">H</text>
<rect x="159.81" y="445.03" width="52.49" height="30.99" fill="#fdf2c5" stroke="#000" stroke-width="1.07"/>
<text x="166.80" y="463.62" textLength="38.50" lengthAdjust="spacingAndGlyphs" style="font-family:'Liberation Serif',serif;font-size:26.0px;fill:#000;stroke:#fdf2c5;stroke-width:0.12px;">gue</text>
<text x="61.80" y="520.46" textLength="13.00" lengthAdjust="spacingAndGlyphs" style="font-family:'Liberation Serif',serif;font-size:26.3px;font-style:italic;fill:#000;stroke:#fff;stroke-width:0.12px;">d</text>
<text x="74.90" y="524.06" textLength="8.80" lengthAdjust="spacingAndGlyphs" style="font-family:'Liberation Serif',serif;font-size:18.0px;fill:#000;">5</text>
<text x="95.50" y="520.26" text-anchor="middle" style="font-family:'Liberation Serif',serif;font-size:24px;">:</text>
<rect x="118.53" y="496.70" width="33.93" height="32.53" fill="#e0f0e3" stroke="#001000" stroke-width="1.07"/>
<text x="126.20" y="522.06" textLength="18.50" lengthAdjust="spacingAndGlyphs" style="font-family:'Liberation Serif',serif;font-size:27.6px;fill:#001000;stroke:#e0f0e3;stroke-width:0.12px;">H</text>
<rect x="159.81" y="497.47" width="52.49" height="30.99" fill="#fdf2c5" stroke="#000" stroke-width="1.07"/>
<text x="166.80" y="516.06" textLength="38.50" lengthAdjust="spacingAndGlyphs" style="font-family:'Liberation Serif',serif;font-size:26.0px;fill:#000;stroke:#fdf2c5;stroke-width:0.12px;">gue</text>
<text x="61.80" y="572.90" textLength="13.00" lengthAdjust="spacingAndGlyphs" style="font-family:'Liberation Serif',serif;font-size:26.3px;font-style:italic;fill:#000;stroke:#fff;stroke-width:0.12px;">d</text>
<text x="74.90" y="576.50" textLength="8.80" lengthAdjust="spacingAndGlyphs" style="font-family:'Liberation Serif',serif;font-size:18.0px;fill:#000;">6</text>
<text x="95.50" y="572.70" text-anchor="middle" style="font-family:'Liberation Serif',serif;font-size:24px;">:</text>
<rect x="118.53" y="549.13" width="33.93" height="32.53" fill="#e0f0e3" stroke="#001000" stroke-width="1.07"/>
<text x="126.20" y="574.50" textLength="18.50" lengthAdjust="spacingAndGlyphs" style="font-family:'Liberation Serif',serif;font-size:27.6px;fill:#001000;stroke:#e0f0e3;stroke-width:0.12px;">H</text>
<rect x="159.81" y="549.90" width="52.49" height="30.99" fill="#fdf2c5" stroke="#000" stroke-width="1.07"/>
<text x="166.80" y="568.50" textLength="38.50" lengthAdjust="spacingAndGlyphs" style="font-family:'Liberation Serif',serif;font-size:26.0px;fill:#000;stroke:#fdf2c5;stroke-width:0.12px;">gue</text>
<text x="61.80" y="625.34" textLength="13.00" lengthAdjust="spacingAndGlyphs" style="font-family:'Liberation Serif',serif;font-size:26.3px;font-style:italic;fill:#000;stroke:#fff;stroke-width:0.12px;">d</text>
<text x="74.90" y="628.94" textLength="8.80" lengthAdjust="spacingAndGlyphs" style="font-family:'Liberation Serif',serif;font-size:18.0px;fill:#000;">7</text>
<text x="95.50" y="625.14" text-anchor="middle" style="font-family:'Liberation Serif',serif;font-size:24px;">:</text>
<rect x="118.53" y="601.57" width="33.93" height="32.53" fill="#e0f0e3" stroke="#001000" stroke-width="1.07"/>
<text x="126.20" y="626.94" textLength="18.50" lengthAdjust="spacingAndGlyphs" style="font-family:'Liberation Serif',serif;font-size:27.6px;fill:#001000;stroke:#e0f0e3;stroke-width:0.12px;">H</text>
<rect x="159.81" y="602.34" width="52.49" height="30.99" fill="#fdf2c5" stroke="#000" stroke-width="1.07"/>
<text x="166.80" y="620.94" textLength="38.50" lengthAdjust="spacingAndGlyphs" style="font-family:'Liberation Serif',serif;font-size:26.0px;fill:#000;stroke:#fdf2c5;stroke-width:0.12px;">gue</text>
<rect x="227.73" y="232.09" width="46.53" height="37.33" fill="#fff" stroke="#000" stroke-width="1.07"/>
<text x="235.00" y="257.26" textLength="18.60" lengthAdjust="spacingAndGlyphs" style="font-family:'Liberation Serif',serif;font-size:27.4px;fill:#000;stroke:#fff;stroke-width:0.12px;">R</text>
<text x="252.80" y="257.26" textLength="13.60" lengthAdjust="spacingAndGlyphs" style="font-family:'Liberation Serif',serif;font-size:26.0px;fill:#000;stroke:#fff;stroke-width:0.12px;">y</text>
<rect x="579.63" y="232.09" width="46.53" height="37.33" fill="#fff" stroke="#000" stroke-width="1.07"/>
<text x="586.90" y="257.26" textLength="18.60" lengthAdjust="spacingAndGlyphs" style="font-family:'Liberation Serif',serif;font-size:27.4px;fill:#000;stroke:#fff;stroke-width:0.12px;">R</text>
<text x="604.70" y="257.26" textLength="13.60" lengthAdjust="spacingAndGlyphs" style="font-family:'Liberation Serif',serif;font-size:26.0px;fill:#000;stroke:#fff;stroke-width:0.12px;">y</text>
<rect x="281.54" y="234.44" width="46.93" height="32.63" fill="#fdf2c5" stroke="#000" stroke-width="1.07"/>
<text x="289.40" y="260.26" textLength="6.80" lengthAdjust="spacingAndGlyphs" style="font-family:'Liberation Serif',serif;font-size:27.0px;fill:#000;stroke:#fdf2c5;stroke-width:0.12px;">l</text>
<text x="296.60" y="260.26" textLength="24.60" lengthAdjust="spacingAndGlyphs" style="font-family:'Liberation Serif',serif;font-size:26.0px;fill:#000;stroke:#fdf2c5;stroke-width:0.12px;">ue</text>
<rect x="633.93" y="234.44" width="46.93" height="32.63" fill="#fdf2c5" stroke="#000" stroke-width="1.07"/>
<text x="641.80" y="260.26" textLength="6.80" lengthAdjust="spacingAndGlyphs" style="font-family:'Liberation Serif',serif;font-size:27.0px;fill:#000;stroke:#fdf2c5;stroke-width:0.12px;">l</text>
<text x="649.00" y="260.26" textLength="24.60" lengthAdjust="spacingAndGlyphs" style="font-family:'Liberation Serif',serif;font-size:26.0px;fill:#000;stroke:#fdf2c5;stroke-width:0.12px;">ue</text>
<rect x="227.73" y="284.54" width="46.53" height="37.33" fill="#fff" stroke="#000" stroke-width="1.07"/>
<text x="235.00" y="309.70" textLength="18.60" lengthAdjust="spacingAndGlyphs" style="font-family:'Liberation Serif',serif;font-size:27.4px;fill:#000;stroke:#fff;stroke-width:0.12px;">R</text>
<text x="252.80" y="309.70" textLength="13.60" lengthAdjust="spacingAndGlyphs" style="font-family:'Liberation Serif',serif;font-size:26.0px;fill:#000;stroke:#fff;stroke-width:0.12px;">y</text>
<rect x="579.63" y="284.54" width="46.53" height="37.33" fill="#fff" stroke="#000" stroke-width="1.07"/>
<text x="586.90" y="309.70" textLength="18.60" lengthAdjust="spacingAndGlyphs" style="font-family:'Liberation Serif',serif;font-size:27.4px;fill:#000;stroke:#fff;stroke-width:0.12px;">R</text>
<text x="604.70" y="309.70" textLength="13.60" lengthAdjust="spacingAndGlyphs" style="font-family:'Liberation Serif',serif;font-size:26.0px;fill:#000;stroke:#fff;stroke-width:0.12px;">y</text>
<rect x="281.54" y="286.88" width="46.93" height="32.63" fill="#fdf2c5" stroke="#000" stroke-width="1.07"/>
<text x="289.40" y="312.70" textLength="6.80" lengthAdjust="spacingAndGlyphs" style="font-family:'Liberation Serif',serif;font-size:27.0px;fill:#000;stroke:#fdf2c5;stroke-width:0.12px;">l</text>
<text x="296.60" y="312.70" textLength="24.60" lengthAdjust="spacingAndGlyphs" style="font-family:'Liberation Serif',serif;font-size:26.0px;fill:#000;stroke:#fdf2c5;stroke-width:0.12px;">ue</text>
<rect x="633.93" y="286.88" width="46.93" height="32.63" fill="#fdf2c5" stroke="#000" stroke-width="1.07"/>
<text x="641.80" y="312.70" textLength="6.80" lengthAdjust="spacingAndGlyphs" style="font-family:'Liberation Serif',serif;font-size:27.0px;fill:#000;stroke:#fdf2c5;stroke-width:0.12px;">l</text>
<text x="649.00" y="312.70" textLength="24.60" lengthAdjust="spacingAndGlyphs" style="font-family:'Liberation Serif',serif;font-size:26.0px;fill:#000;stroke:#fdf2c5;stroke-width:0.12px;">ue</text>
<rect x="227.73" y="336.98" width="46.53" height="37.33" fill="#fff" stroke="#000" stroke-width="1.07"/>
<text x="235.00" y="362.14" textLength="18.60" lengthAdjust="spacingAndGlyphs" style="font-family:'Liberation Serif',serif;font-size:27.4px;fill:#000;stroke:#fff;stroke-width:0.12px;">R</text>
<text x="252.80" y="362.14" textLength="13.60" lengthAdjust="spacingAndGlyphs" style="font-family:'Liberation Serif',serif;font-size:26.0px;fill:#000;stroke:#fff;stroke-width:0.12px;">y</text>
<rect x="579.63" y="336.98" width="46.53" height="37.33" fill="#fff" stroke="#000" stroke-width="1.07"/>
<text x="586.90" y="362.14" textLength="18.60" lengthAdjust="spacingAndGlyphs" style="font-family:'Liberation Serif',serif;font-size:27.4px;fill:#000;stroke:#fff;stroke-width:0.12px;">R</text>
<text x="604.70" y="362.14" textLength="13.60" lengthAdjust="spacingAndGlyphs" style="font-family:'Liberation Serif',serif;font-size:26.0px;fill:#000;stroke:#fff;stroke-width:0.12px;">y</text>
<rect x="281.54" y="339.32" width="46.93" height="32.63" fill="#fdf2c5" stroke="#000" stroke-width="1.07"/>
<text x="289.40" y="365.14" textLength="6.80" lengthAdjust="spacingAndGlyphs" style="font-family:'Liberation Serif',serif;font-size:27.0px;fill:#000;stroke:#fdf2c5;stroke-width:0.12px;">l</text>
<text x="296.60" y="365.14" textLength="24.60" lengthAdjust="spacingAndGlyphs" style="font-family:'Liberation Serif',serif;font-size:26.0px;fill:#000;stroke:#fdf2c5;stroke-width:0.12px;">ue</text>
<rect x="633.93" y="339.32" width="46.93" height="32.63" fill="#fdf2c5" stroke="#000" stroke-width="1.07"/>
<text x="641.80" y="365.14" textLength="6.80" lengthAdjust="spacingAndGlyphs" style="font-family:'Liberation Serif',serif;font-size:27.0px;fill:#000;stroke:#fdf2c5;stroke-width:0.12px;">l</text>
<text x="649.00" y="365.14" textLength="24.60" lengthAdjust="spacingAndGlyphs" style="font-family:'Liberation Serif',serif;font-size:26.0px;fill:#000;stroke:#fdf2c5;stroke-width:0.12px;">ue</text>
<rect x="227.73" y="389.42" width="46.53" height="37.33" fill="#fff" stroke="#000" stroke-width="1.07"/>
<text x="235.00" y="414.58" textLength="18.60" lengthAdjust="spacingAndGlyphs" style="font-family:'Liberation Serif',serif;font-size:27.4px;fill:#000;stroke:#fff;stroke-width:0.12px;">R</text>
<text x="252.80" y="414.58" textLength="13.60" lengthAdjust="spacingAndGlyphs" style="font-family:'Liberation Serif',serif;font-size:26.0px;fill:#000;stroke:#fff;stroke-width:0.12px;">y</text>
<rect x="579.63" y="389.42" width="46.53" height="37.33" fill="#fff" stroke="#000" stroke-width="1.07"/>
<text x="586.90" y="414.58" textLength="18.60" lengthAdjust="spacingAndGlyphs" style="font-family:'Liberation Serif',serif;font-size:27.4px;fill:#000;stroke:#fff;stroke-width:0.12px;">R</text>
<text x="604.70" y="414.58" textLength="13.60" lengthAdjust="spacingAndGlyphs" style="font-family:'Liberation Serif',serif;font-size:26.0px;fill:#000;stroke:#fff;stroke-width:0.12px;">y</text>
<rect x="281.54" y="391.76" width="46.93" height="32.63" fill="#fdf2c5" stroke="#000" stroke-width="1.07"/>
<text x="289.40" y="417.58" textLength="6.80" lengthAdjust="spacingAndGlyphs" style="font-family:'Liberation Serif',serif;font-size:27.0px;fill:#000;stroke:#fdf2c5;stroke-width:0.12px;">l</text>
<text x="296.60" y="417.58" textLength="24.60" lengthAdjust="spacingAndGlyphs" style="font-family:'Liberation Serif',serif;font-size:26.0px;fill:#000;stroke:#fdf2c5;stroke-width:0.12px;">ue</text>
<rect x="633.93" y="391.76" width="46.93" height="32.63" fill="#fdf2c5" stroke="#000" stroke-width="1.07"/>
<text x="641.80" y="417.58" textLength="6.80" lengthAdjust="spacingAndGlyphs" style="font-family:'Liberation Serif',serif;font-size:27.0px;fill:#000;stroke:#fdf2c5;stroke-width:0.12px;">l</text>
<text x="649.00" y="417.58" textLength="24.60" lengthAdjust="spacingAndGlyphs" style="font-family:'Liberation Serif',serif;font-size:26.0px;fill:#000;stroke:#fdf2c5;stroke-width:0.12px;">ue</text>
<rect x="227.73" y="441.86" width="46.53" height="37.33" fill="#fff" stroke="#000" stroke-width="1.07"/>
<text x="235.00" y="467.02" textLength="18.60" lengthAdjust="spacingAndGlyphs" style="font-family:'Liberation Serif',serif;font-size:27.4px;fill:#000;stroke:#fff;stroke-width:0.12px;">R</text>
<text x="252.80" y="467.02" textLength="13.60" lengthAdjust="spacingAndGlyphs" style="font-family:'Liberation Serif',serif;font-size:26.0px;fill:#000;stroke:#fff;stroke-width:0.12px;">y</text>
<rect x="579.63" y="441.86" width="46.53" height="37.33" fill="#fff" stroke="#000" stroke-width="1.07"/>
<text x="586.90" y="467.02" textLength="18.60" lengthAdjust="spacingAndGlyphs" style="font-family:'Liberation Serif',serif;font-size:27.4px;fill:#000;stroke:#fff;stroke-width:0.12px;">R</text>
<text x="604.70" y="467.02" textLength="13.60" lengthAdjust="spacingAndGlyphs" style="font-family:'Liberation Serif',serif;font-size:26.0px;fill:#000;stroke:#fff;stroke-width:0.12px;">y</text>
<rect x="281.54" y="444.20" width="46.93" height="32.63" fill="#fdf2c5" stroke="#000" stroke-width="1.07"/>
<text x="289.40" y="470.02" textLength="6.80" lengthAdjust="spacingAndGlyphs" style="font-family:'Liberation Serif',serif;font-size:27.0px;fill:#000;stroke:#fdf2c5;stroke-width:0.12px;">l</text>
<text x="296.60" y="470.02" textLength="24.60" lengthAdjust="spacingAndGlyphs" style="font-family:'Liberation Serif',serif;font-size:26.0px;fill:#000;stroke:#fdf2c5;stroke-width:0.12px;">ue</text>
<rect x="633.93" y="444.20" width="46.93" height="32.63" fill="#fdf2c5" stroke="#000" stroke-width="1.07"/>
<text x="641.80" y="470.02" textLength="6.80" lengthAdjust="spacingAndGlyphs" style="font-family:'Liberation Serif',serif;font-size:27.0px;fill:#000;stroke:#fdf2c5;stroke-width:0.12px;">l</text>
<text x="649.00" y="470.02" textLength="24.60" lengthAdjust="spacingAndGlyphs" style="font-family:'Liberation Serif',serif;font-size:26.0px;fill:#000;stroke:#fdf2c5;stroke-width:0.12px;">ue</text>
<rect x="227.73" y="494.30" width="46.53" height="37.33" fill="#fff" stroke="#000" stroke-width="1.07"/>
<text x="235.00" y="519.46" textLength="18.60" lengthAdjust="spacingAndGlyphs" style="font-family:'Liberation Serif',serif;font-size:27.4px;fill:#000;stroke:#fff;stroke-width:0.12px;">R</text>
<text x="252.80" y="519.46" textLength="13.60" lengthAdjust="spacingAndGlyphs" style="font-family:'Liberation Serif',serif;font-size:26.0px;fill:#000;stroke:#fff;stroke-width:0.12px;">y</text>
<rect x="579.63" y="494.30" width="46.53" height="37.33" fill="#fff" stroke="#000" stroke-width="1.07"/>
<text x="586.90" y="519.46" textLength="18.60" lengthAdjust="spacingAndGlyphs" style="font-family:'Liberation Serif',serif;font-size:27.4px;fill:#000;stroke:#fff;stroke-width:0.12px;">R</text>
<text x="604.70" y="519.46" textLength="13.60" lengthAdjust="spacingAndGlyphs" style="font-family:'Liberation Serif',serif;font-size:26.0px;fill:#000;stroke:#fff;stroke-width:0.12px;">y</text>
<rect x="281.54" y="496.65" width="46.93" height="32.63" fill="#fdf2c5" stroke="#000" stroke-width="1.07"/>
<text x="289.40" y="522.46" textLength="6.80" lengthAdjust="spacingAndGlyphs" style="font-family:'Liberation Serif',serif;font-size:27.0px;fill:#000;stroke:#fdf2c5;stroke-width:0.12px;">l</text>
<text x="296.60" y="522.46" textLength="24.60" lengthAdjust="spacingAndGlyphs" style="font-family:'Liberation Serif',serif;font-size:26.0px;fill:#000;stroke:#fdf2c5;stroke-width:0.12px;">ue</text>
<rect x="633.93" y="496.65" width="46.93" height="32.63" fill="#fdf2c5" stroke="#000" stroke-width="1.07"/>
<text x="641.80" y="522.46" textLength="6.80" lengthAdjust="spacingAndGlyphs" style="font-family:'Liberation Serif',serif;font-size:27.0px;fill:#000;stroke:#fdf2c5;stroke-width:0.12px;">l</text>
<text x="649.00" y="522.46" textLength="24.60" lengthAdjust="spacingAndGlyphs" style="font-family:'Liberation Serif',serif;font-size:26.0px;fill:#000;stroke:#fdf2c5;stroke-width:0.12px;">ue</text>
<rect x="227.73" y="546.73" width="46.53" height="37.33" fill="#fff" stroke="#000" stroke-width="1.07"/>
<text x="235.00" y="571.90" textLength="18.60" lengthAdjust="spacingAndGlyphs" style="font-family:'Liberation Serif',serif;font-size:27.4px;fill:#000;stroke:#fff;stroke-width:0.12px;">R</text>
<text x="252.80" y="571.90" textLength="13.60" lengthAdjust="spacingAndGlyphs" style="font-family:'Liberation Serif',serif;font-size:26.0px;fill:#000;stroke:#fff;stroke-width:0.12px;">y</text>
<rect x="579.63" y="546.73" width="46.53" height="37.33" fill="#fff" stroke="#000" stroke-width="1.07"/>
<text x="586.90" y="571.90" textLength="18.60" lengthAdjust="spacingAndGlyphs" style="font-family:'Liberation Serif',serif;font-size:27.4px;fill:#000;stroke:#fff;stroke-width:0.12px;">R</text>
<text x="604.70" y="571.90" textLength="13.60" lengthAdjust="spacingAndGlyphs" style="font-family:'Liberation Serif',serif;font-size:26.0px;fill:#000;stroke:#fff;stroke-width:0.12px;">y</text>
<rect x="281.54" y="549.08" width="46.93" height="32.63" fill="#fdf2c5" stroke="#000" stroke-width="1.07"/>
<text x="289.40" y="574.90" textLength="6.80" lengthAdjust="spacingAndGlyphs" style="font-family:'Liberation Serif',serif;font-size:27.0px;fill:#000;stroke:#fdf2c5;stroke-width:0.12px;">l</text>
<text x="296.60" y="574.90" textLength="24.60" lengthAdjust="spacingAndGlyphs" style="font-family:'Liberation Serif',serif;font-size:26.0px;fill:#000;stroke:#fdf2c5;stroke-width:0.12px;">ue</text>
<rect x="633.93" y="549.08" width="46.93" height="32.63" fill="#fdf2c5" stroke="#000" stroke-width="1.07"/>
<text x="641.80" y="574.90" textLength="6.80" lengthAdjust="spacingAndGlyphs" style="font-family:'Liberation Serif',serif;font-size:27.0px;fill:#000;stroke:#fdf2c5;stroke-width:0.12px;">l</text>
<text x="649.00" y="574.90" textLength="24.60" lengthAdjust="spacingAndGlyphs" style="font-family:'Liberation Serif',serif;font-size:26.0px;fill:#000;stroke:#fdf2c5;stroke-width:0.12px;">ue</text>
<rect x="227.73" y="599.17" width="46.53" height="37.33" fill="#fff" stroke="#000" stroke-width="1.07"/>
<text x="235.00" y="624.34" textLength="18.60" lengthAdjust="spacingAndGlyphs" style="font-family:'Liberation Serif',serif;font-size:27.4px;fill:#000;stroke:#fff;stroke-width:0.12px;">R</text>
<text x="252.80" y="624.34" textLength="13.60" lengthAdjust="spacingAndGlyphs" style="font-family:'Liberation Serif',serif;font-size:26.0px;fill:#000;stroke:#fff;stroke-width:0.12px;">y</text>
<rect x="579.63" y="599.17" width="46.53" height="37.33" fill="#fff" stroke="#000" stroke-width="1.07"/>
<text x="586.90" y="624.34" textLength="18.60" lengthAdjust="spacingAndGlyphs" style="font-family:'Liberation Serif',serif;font-size:27.4px;fill:#000;stroke:#fff;stroke-width:0.12px;">R</text>
<text x="604.70" y="624.34" textLength="13.60" lengthAdjust="spacingAndGlyphs" style="font-family:'Liberation Serif',serif;font-size:26.0px;fill:#000;stroke:#fff;stroke-width:0.12px;">y</text>
<rect x="281.54" y="601.52" width="46.93" height="32.63" fill="#fdf2c5" stroke="#000" stroke-width="1.07"/>
<text x="289.40" y="627.34" textLength="6.80" lengthAdjust="spacingAndGlyphs" style="font-family:'Liberation Serif',serif;font-size:27.0px;fill:#000;stroke:#fdf2c5;stroke-width:0.12px;">l</text>
<text x="296.60" y="627.34" textLength="24.60" lengthAdjust="spacingAndGlyphs" style="font-family:'Liberation Serif',serif;font-size:26.0px;fill:#000;stroke:#fdf2c5;stroke-width:0.12px;">ue</text>
<rect x="633.93" y="601.52" width="46.93" height="32.63" fill="#fdf2c5" stroke="#000" stroke-width="1.07"/>
<text x="641.80" y="627.34" textLength="6.80" lengthAdjust="spacingAndGlyphs" style="font-family:'Liberation Serif',serif;font-size:27.0px;fill:#000;stroke:#fdf2c5;stroke-width:0.12px;">l</text>
<text x="649.00" y="627.34" textLength="24.60" lengthAdjust="spacingAndGlyphs" style="font-family:'Liberation Serif',serif;font-size:26.0px;fill:#000;stroke:#fdf2c5;stroke-width:0.12px;">ue</text>
<rect x="343.84" y="445.03" width="50.43" height="30.99" fill="#fdf2c5" stroke="#000" stroke-width="1.07"/>
<text x="350.75" y="463.72" textLength="36.40" lengthAdjust="spacingAndGlyphs" style="font-family:'Liberation Serif',serif;font-size:26.0px;fill:#000;stroke:#fdf2c5;stroke-width:0.12px;">spe</text>
<rect x="343.84" y="497.47" width="50.43" height="30.99" fill="#fdf2c5" stroke="#000" stroke-width="1.07"/>
<text x="350.75" y="516.16" textLength="36.40" lengthAdjust="spacingAndGlyphs" style="font-family:'Liberation Serif',serif;font-size:26.0px;fill:#000;stroke:#fdf2c5;stroke-width:0.12px;">spe</text>
<rect x="343.84" y="549.90" width="50.43" height="30.99" fill="#fdf2c5" stroke="#000" stroke-width="1.07"/>
<text x="350.75" y="568.60" textLength="36.40" lengthAdjust="spacingAndGlyphs" style="font-family:'Liberation Serif',serif;font-size:26.0px;fill:#000;stroke:#fdf2c5;stroke-width:0.12px;">spe</text>
<rect x="343.84" y="602.34" width="50.43" height="30.99" fill="#fdf2c5" stroke="#000" stroke-width="1.07"/>
<text x="350.75" y="621.04" textLength="36.40" lengthAdjust="spacingAndGlyphs" style="font-family:'Liberation Serif',serif;font-size:26.0px;fill:#000;stroke:#fdf2c5;stroke-width:0.12px;">spe</text>
<rect x="450.54" y="28.04" width="58.63" height="25.93" fill="#fdf2c5" stroke="#000" stroke-width="1.07"/>
<text x="458.40" y="46.90" textLength="43.90" lengthAdjust="spacingAndGlyphs" style="font-family:'Liberation Serif',serif;font-size:26.0px;fill:#000;stroke:#fdf2c5;stroke-width:0.12px;">mve</text>
<rect x="450.54" y="80.47" width="58.63" height="25.93" fill="#fdf2c5" stroke="#000" stroke-width="1.07"/>
<text x="458.40" y="99.34" textLength="43.90" lengthAdjust="spacingAndGlyphs" style="font-family:'Liberation Serif',serif;font-size:26.0px;fill:#000;stroke:#fdf2c5;stroke-width:0.12px;">mve</text>
<rect x="450.54" y="132.91" width="58.63" height="25.93" fill="#fdf2c5" stroke="#000" stroke-width="1.07"/>
<text x="458.40" y="151.78" textLength="43.90" lengthAdjust="spacingAndGlyphs" style="font-family:'Liberation Serif',serif;font-size:26.0px;fill:#000;stroke:#fdf2c5;stroke-width:0.12px;">mve</text>
<rect x="450.54" y="185.35" width="58.63" height="25.93" fill="#fdf2c5" stroke="#000" stroke-width="1.07"/>
<text x="458.40" y="204.22" textLength="43.90" lengthAdjust="spacingAndGlyphs" style="font-family:'Liberation Serif',serif;font-size:26.0px;fill:#000;stroke:#fdf2c5;stroke-width:0.12px;">mve</text>
<rect x="454.64" y="235.26" width="50.43" height="30.99" fill="#fdf2c5" stroke="#000" stroke-width="1.07"/>
<text x="461.55" y="253.96" textLength="36.40" lengthAdjust="spacingAndGlyphs" style="font-family:'Liberation Serif',serif;font-size:26.0px;fill:#000;stroke:#fdf2c5;stroke-width:0.12px;">spe</text>
<rect x="454.64" y="287.70" width="50.43" height="30.99" fill="#fdf2c5" stroke="#000" stroke-width="1.07"/>
<text x="461.55" y="306.40" textLength="36.40" lengthAdjust="spacingAndGlyphs" style="font-family:'Liberation Serif',serif;font-size:26.0px;fill:#000;stroke:#fdf2c5;stroke-width:0.12px;">spe</text>
<rect x="454.64" y="340.15" width="50.43" height="30.99" fill="#fdf2c5" stroke="#000" stroke-width="1.07"/>
<text x="461.55" y="358.84" textLength="36.40" lengthAdjust="spacingAndGlyphs" style="font-family:'Liberation Serif',serif;font-size:26.0px;fill:#000;stroke:#fdf2c5;stroke-width:0.12px;">spe</text>
<rect x="454.64" y="392.58" width="50.43" height="30.99" fill="#fdf2c5" stroke="#000" stroke-width="1.07"/>
<text x="461.55" y="411.28" textLength="36.40" lengthAdjust="spacingAndGlyphs" style="font-family:'Liberation Serif',serif;font-size:26.0px;fill:#000;stroke:#fdf2c5;stroke-width:0.12px;">spe</text>
<rect x="695.73" y="28.04" width="58.63" height="25.93" fill="#fdf2c5" stroke="#000" stroke-width="1.07"/>
<text x="703.60" y="46.90" textLength="43.90" lengthAdjust="spacingAndGlyphs" style="font-family:'Liberation Serif',serif;font-size:26.0px;fill:#000;stroke:#fdf2c5;stroke-width:0.12px;">mve</text>
<rect x="695.73" y="80.47" width="58.63" height="25.93" fill="#fdf2c5" stroke="#000" stroke-width="1.07"/>
<text x="703.60" y="99.34" textLength="43.90" lengthAdjust="spacingAndGlyphs" style="font-family:'Liberation Serif',serif;font-size:26.0px;fill:#000;stroke:#fdf2c5;stroke-width:0.12px;">mve</text>
<rect x="695.73" y="132.91" width="58.63" height="25.93" fill="#fdf2c5" stroke="#000" stroke-width="1.07"/>
<text x="703.60" y="151.78" textLength="43.90" lengthAdjust="spacingAndGlyphs" style="font-family:'Liberation Serif',serif;font-size:26.0px;fill:#000;stroke:#fdf2c5;stroke-width:0.12px;">mve</text>
<rect x="695.73" y="185.35" width="58.63" height="25.93" fill="#fdf2c5" stroke="#000" stroke-width="1.07"/>
<text x="703.60" y="204.22" textLength="43.90" lengthAdjust="spacingAndGlyphs" style="font-family:'Liberation Serif',serif;font-size:26.0px;fill:#000;stroke:#fdf2c5;stroke-width:0.12px;">mve</text>
<rect x="761.93" y="132.91" width="58.63" height="25.93" fill="#fdf2c5" stroke="#000" stroke-width="1.07"/>
<text x="769.80" y="151.78" textLength="43.90" lengthAdjust="spacingAndGlyphs" style="font-family:'Liberation Serif',serif;font-size:26.0px;fill:#000;stroke:#fdf2c5;stroke-width:0.12px;">mve</text>
<rect x="699.83" y="235.26" width="50.43" height="30.99" fill="#fdf2c5" stroke="#000" stroke-width="1.07"/>
<text x="706.75" y="253.96" textLength="36.40" lengthAdjust="spacingAndGlyphs" style="font-family:'Liberation Serif',serif;font-size:26.0px;fill:#000;stroke:#fdf2c5;stroke-width:0.12px;">spe</text>
<rect x="699.83" y="287.70" width="50.43" height="30.99" fill="#fdf2c5" stroke="#000" stroke-width="1.07"/>
<text x="706.75" y="306.40" textLength="36.40" lengthAdjust="spacingAndGlyphs" style="font-family:'Liberation Serif',serif;font-size:26.0px;fill:#000;stroke:#fdf2c5;stroke-width:0.12px;">spe</text>
<rect x="699.83" y="340.15" width="50.43" height="30.99" fill="#fdf2c5" stroke="#000" stroke-width="1.07"/>
<text x="706.75" y="358.84" textLength="36.40" lengthAdjust="spacingAndGlyphs" style="font-family:'Liberation Serif',serif;font-size:26.0px;fill:#000;stroke:#fdf2c5;stroke-width:0.12px;">spe</text>
<rect x="699.83" y="392.58" width="50.43" height="30.99" fill="#fdf2c5" stroke="#000" stroke-width="1.07"/>
<text x="706.75" y="411.28" textLength="36.40" lengthAdjust="spacingAndGlyphs" style="font-family:'Liberation Serif',serif;font-size:26.0px;fill:#000;stroke:#fdf2c5;stroke-width:0.12px;">spe</text>
<rect x="898.43" y="28.04" width="58.63" height="25.93" fill="#fdf2c5" stroke="#000" stroke-width="1.07"/>
<text x="906.30" y="46.90" textLength="43.90" lengthAdjust="spacingAndGlyphs" style="font-family:'Liberation Serif',serif;font-size:26.0px;fill:#000;stroke:#fdf2c5;stroke-width:0.12px;">mve</text>
<rect x="898.43" y="80.47" width="58.63" height="25.93" fill="#fdf2c5" stroke="#000" stroke-width="1.07"/>
<text x="906.30" y="99.34" textLength="43.90" lengthAdjust="spacingAndGlyphs" style="font-family:'Liberation Serif',serif;font-size:26.0px;fill:#000;stroke:#fdf2c5;stroke-width:0.12px;">mve</text>
<rect x="898.43" y="132.91" width="58.63" height="25.93" fill="#fdf2c5" stroke="#000" stroke-width="1.07"/>
<text x="906.30" y="151.78" textLength="43.90" lengthAdjust="spacingAndGlyphs" style="font-family:'Liberation Serif',serif;font-size:26.0px;fill:#000;stroke:#fdf2c5;stroke-width:0.12px;">mve</text>
<rect x="898.43" y="185.35" width="58.63" height="25.93" fill="#fdf2c5" stroke="#000" stroke-width="1.07"/>
<text x="906.30" y="204.22" textLength="43.90" lengthAdjust="spacingAndGlyphs" style="font-family:'Liberation Serif',serif;font-size:26.0px;fill:#000;stroke:#fdf2c5;stroke-width:0.12px;">mve</text>
<rect x="902.53" y="445.03" width="50.43" height="30.99" fill="#fdf2c5" stroke="#000" stroke-width="1.07"/>
<text x="909.45" y="463.72" textLength="36.40" lengthAdjust="spacingAndGlyphs" style="font-family:'Liberation Serif',serif;font-size:26.0px;fill:#000;stroke:#fdf2c5;stroke-width:0.12px;">spe</text>
<rect x="902.53" y="497.47" width="50.43" height="30.99" fill="#fdf2c5" stroke="#000" stroke-width="1.07"/>
<text x="909.45" y="516.16" textLength="36.40" lengthAdjust="spacingAndGlyphs" style="font-family:'Liberation Serif',serif;font-size:26.0px;fill:#000;stroke:#fdf2c5;stroke-width:0.12px;">spe</text>
<rect x="902.53" y="549.90" width="50.43" height="30.99" fill="#fdf2c5" stroke="#000" stroke-width="1.07"/>
<text x="909.45" y="568.60" textLength="36.40" lengthAdjust="spacingAndGlyphs" style="font-family:'Liberation Serif',serif;font-size:26.0px;fill:#000;stroke:#fdf2c5;stroke-width:0.12px;">spe</text>
<rect x="902.53" y="602.34" width="50.43" height="30.99" fill="#fdf2c5" stroke="#000" stroke-width="1.07"/>
<text x="909.45" y="621.04" textLength="36.40" lengthAdjust="spacingAndGlyphs" style="font-family:'Liberation Serif',serif;font-size:26.0px;fill:#000;stroke:#fdf2c5;stroke-width:0.12px;">spe</text>
<text x="661.60" y="678.50" textLength="51.80" lengthAdjust="spacingAndGlyphs" style="font-family:'Liberation Serif',serif;font-size:26.0px;fill:#000;stroke:#fff;stroke-width:0.12px;">start</text>
<text x="1003.80" y="675.20" textLength="47.10" lengthAdjust="spacingAndGlyphs" style="font-family:'Liberation Serif',serif;font-size:26.0px;fill:#000;stroke:#fff;stroke-width:0.12px;">stop</text>
</svg>
</body></html>
